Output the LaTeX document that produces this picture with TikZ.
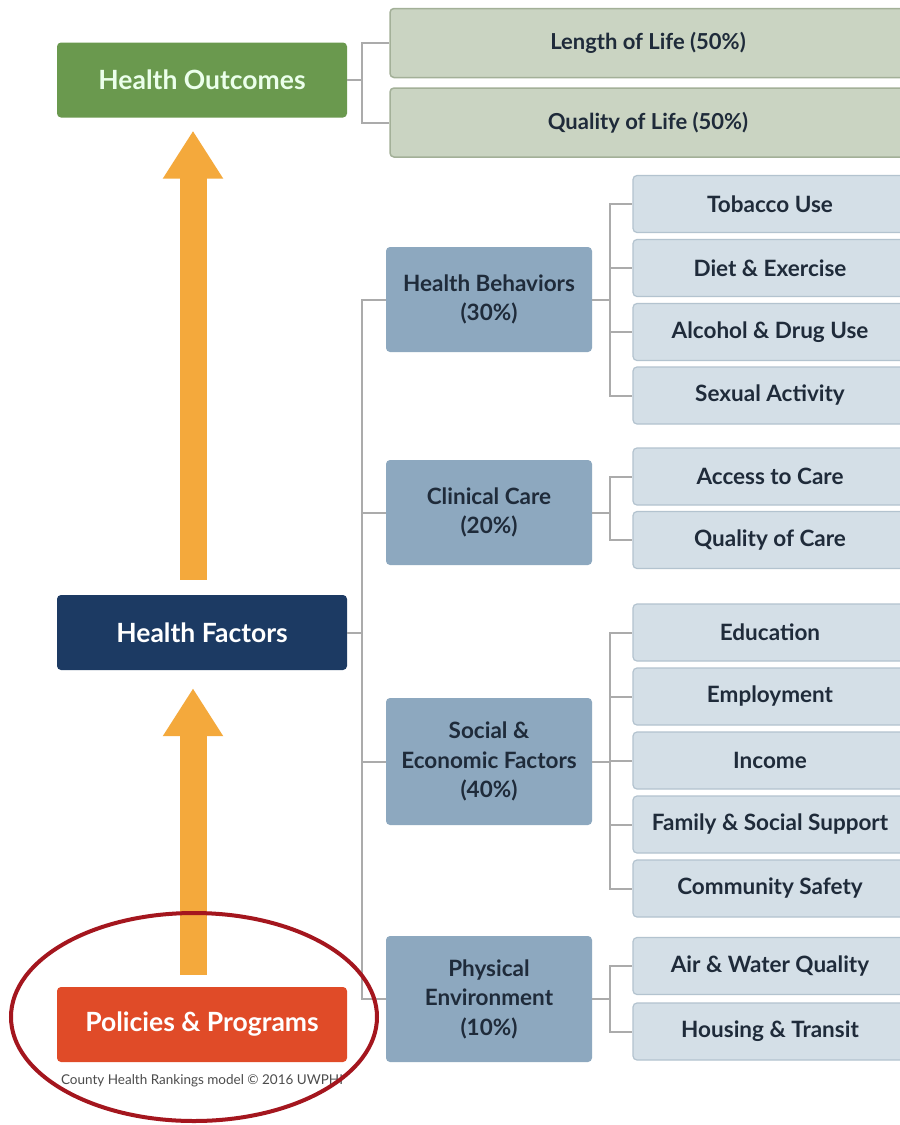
\documentclass[tikz,border=0pt]{standalone}
\usepackage{fontspec}
\setmainfont{Lato}
\usetikzlibrary{arrows.meta}

\definecolor{outgreen}{HTML}{6A994E}
\definecolor{outlight}{HTML}{CAD4C2}
\definecolor{outedge}{HTML}{A3B098}
\definecolor{factnavy}{HTML}{1C3A63}
\definecolor{polred}{HTML}{E04B28}
\definecolor{arrowor}{HTML}{F4A93C}
\definecolor{midblue}{HTML}{8DA8BF}
\definecolor{leafblue}{HTML}{D4DFE7}
\definecolor{leafedge}{HTML}{B3C3CF}
\definecolor{inkdark}{HTML}{1F2B3A}
\definecolor{linkgrey}{HTML}{ABABAB}
\definecolor{ringred}{HTML}{A4161E}

\tikzset{
	mainbox/.style={rounded corners=4pt, inner sep=0pt, minimum width=290pt, minimum height=75pt,
		font=\fontsize{26.5}{30}\selectfont\bfseries, text=white},
	outbox/.style={draw=outedge, line width=1.5pt, fill=outlight, rounded corners=4pt, inner sep=0pt,
		minimum width=516pt, minimum height=69pt, font=\fontsize{22}{26}\selectfont\bfseries, text=inkdark},
	midbox/.style={fill=midblue, rounded corners=4pt, inner sep=0pt, minimum width=206pt, align=center,
		font=\fontsize{22.5}{29.5}\selectfont\bfseries, text=inkdark},
	leaf/.style={draw=leafedge, line width=1.2pt, fill=leafblue, rounded corners=4pt, inner sep=0pt,
		minimum width=274pt, minimum height=57pt, font=\fontsize{22.5}{26}\selectfont\bfseries, text=inkdark},
	link/.style={draw=linkgrey, line width=2pt},
	bigarrow/.style={draw=arrowor, line width=27pt, -{Triangle[width=57pt,length=48pt]}},
	credit/.style={font=\fontsize{13.5}{15}\selectfont, text=black!70},
}

\begin{document}
\begin{tikzpicture}[x=1pt,y=-1pt]
	\useasboundingbox (0,0) rectangle (900,1125);
	\clip (0,0) rectangle (900,1125);
	\fill[white] (0,0) rectangle (900,1125);

	% left column
	\node[mainbox, fill=outgreen, text=green!8!white] (ho) at (202,80) {Health Outcomes};
	\node[mainbox, fill=factnavy] (hf) at (202,632.5) {Health Factors};
	\node[mainbox, fill=polred] (pp) at (202,1024.5) {Policies \& Programs};
	\node[credit] (cr) at (202,1081) {County Health Rankings model © 2016 UWPHI};

	\draw[bigarrow, shorten <=15pt, shorten >=13pt] ([xshift=-9pt]hf.north) -- ([xshift=-9pt]ho.south);
	\draw[bigarrow, shorten <=12pt, shorten >=18pt] ([xshift=-9pt]pp.north) -- ([xshift=-9pt]hf.south);

	% outcomes
	\node[outbox] (lol) at (648,43) {Length of Life (50\%)};
	\node[outbox] (qol) at (648,122.5) {Quality of Life (50\%)};
	\draw[link] (ho.east) -- ++(15,0) |- (lol.west);
	\draw[link] (ho.east) -- ++(15,0) |- (qol.west);

	% factors
	\node[midbox, minimum height=105pt] (hb) at (489,299.5) {Health Behaviors\\(30\%)};
	\node[midbox, minimum height=105pt] (cc) at (489,512.5) {Clinical Care\\(20\%)};
	\node[midbox, minimum height=127pt] (sef) at (489,761.5) {Social \&\\Economic Factors\\(40\%)};
	\node[midbox, minimum height=126pt] (pe) at (489,999) {Physical\\Environment\\(10\%)};
	\foreach \m in {hb,cc,sef,pe}
		\draw[link] (hf.east) -- ++(15,0) |- (\m.west);

	\node[leaf] (tob) at (770,204) {Tobacco Use};
	\node[leaf] (diet) at (770,268) {Diet \& Exercise};
	\node[leaf] (alc) at (770,332) {Alcohol \& Drug Use};
	\node[leaf] (sex) at (770,395.5) {Sexual Activity};
	\foreach \m in {tob,diet,alc,sex}
		\draw[link] (hb.east) -- ++(18,0) |- (\m.west);

	\node[leaf] (acc) at (770,476.5) {Access to Care};
	\node[leaf] (qoc) at (770,540) {Quality of Care};
	\foreach \m in {acc,qoc}
		\draw[link] (cc.east) -- ++(18,0) |- (\m.west);

	\node[leaf] (edu) at (770,632.5) {Education};
	\node[leaf] (emp) at (770,696.5) {Employment};
	\node[leaf] (inc) at (770,760.5) {Income};
	\node[leaf] (fam) at (770,824.5) {Family \& Social Support};
	\node[leaf] (saf) at (770,888.5) {Community Safety};
	\foreach \m in {edu,emp,inc,fam,saf}
		\draw[link] (sef.east) -- ++(18,0) |- (\m.west);

	\node[leaf] (air) at (770,966) {Air \& Water Quality};
	\node[leaf] (hou) at (770,1031.5) {Housing \& Transit};
	\foreach \m in {air,hou}
		\draw[link] (pe.east) -- ++(18,0) |- (\m.west);

	% ring round the policies box
	\draw[ringred, line width=4pt] (194,1017) ellipse [x radius=183, y radius=104];
\end{tikzpicture}
\end{document}
